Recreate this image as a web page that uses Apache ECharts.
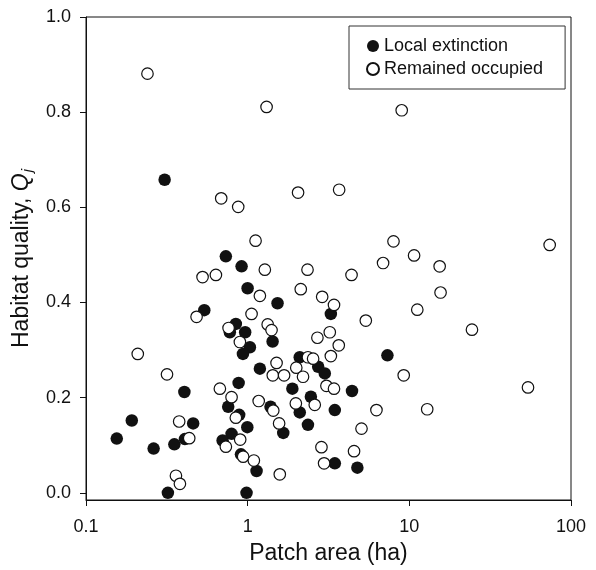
<!DOCTYPE html>
<html>
<head>
<meta charset="utf-8">
<script src="https://cdn.jsdelivr.net/npm/echarts@6/dist/echarts.min.js"></script>
<style>
html,body{margin:0;padding:0;background:#fff;}
#chart{width:596px;height:570px;}
</style>
</head>
<body>
<div id="chart"></div>
<script>
// Local extinction (filled)
const extinctionArea = [0.155,0.192,0.262,0.352,0.406,0.460,0.409,0.321,0.984,0.879,0.758,0.886,0.995,0.795,0.700,0.909,1.135,1.66,1.385,2.10,0.733,0.917,0.999,0.539,0.845,0.965,0.776,1.53,1.032,0.935,1.426,1.19,2.10,2.73,3.0,7.32,1.89,4.42,2.46,3.46,2.36,3.46,4.77,3.27,0.3065];
const extinctionQ    = [0.114,0.152,0.093,0.102,0.212,0.146,0.113,0.0,0.0,0.231,0.181,0.164,0.138,0.124,0.110,0.081,0.046,0.126,0.181,0.169,0.497,0.476,0.430,0.384,0.355,0.3375,0.3375,0.3985,0.306,0.292,0.318,0.261,0.285,0.265,0.251,0.289,0.219,0.214,0.202,0.174,0.143,0.062,0.053,0.376,0.658];
// Remained occupied (open)
const occupiedArea = [0.209,0.317,0.377,0.435,0.360,0.381,0.673,0.795,0.845,0.733,0.899,0.938,1.092,1.58,1.565,1.44,1.986,0.686,0.874,0.526,0.636,0.483,0.762,1.119,1.277,1.19,2.13,1.057,0.895,1.33,1.405,1.509,1.998,2.345,4.39,7.98,6.88,2.89,3.42,5.38,2.70,3.22,3.66,3.27,2.36,2.54,9.23,1.43,1.68,2.20,3.07,3.42,1.17,2.60,6.26,5.06,2.86,4.55,2.97,10.7,15.4,73.8,15.6,11.2,24.4,54.2,12.9,0.240,1.309,8.97,2.05,3.68];
const occupiedQ    = [0.292,0.249,0.150,0.115,0.036,0.019,0.219,0.201,0.158,0.097,0.112,0.076,0.068,0.039,0.146,0.173,0.188,0.619,0.601,0.4535,0.458,0.370,0.3465,0.530,0.469,0.414,0.428,0.376,0.317,0.354,0.342,0.273,0.263,0.469,0.458,0.5285,0.483,0.412,0.395,0.362,0.326,0.3375,0.310,0.2875,0.285,0.282,0.247,0.247,0.247,0.244,0.225,0.219,0.193,0.185,0.174,0.135,0.096,0.0875,0.062,0.499,0.476,0.521,0.421,0.385,0.343,0.2215,0.1757,0.881,0.811,0.804,0.631,0.637];
const xTickValues = [0.1, 1, 10, 100];
const yTickValues = [0, 0.2, 0.4, 0.6, 0.8, 1.0];
const seriesNames = ['Local extinction', 'Remained occupied'];

const FONT = '"Liberation Sans", Arial, Helvetica, sans-serif';
const INK = '#111';

function pairs(xs, ys) { return xs.map((x, i) => [x, ys[i]]); }

const chart = echarts.init(document.getElementById('chart'), null, {renderer: 'canvas'});
chart.setOption({
  backgroundColor: '#fff',
  animation: false,
  grid: {left: 86, right: 25, top: 17, bottom: 66, show: true, borderColor: INK, borderWidth: 1, backgroundColor: 'transparent'},
  legend: {
    left: 349, top: 26, orient: 'vertical',
    borderColor: '#333', borderWidth: 1, borderRadius: 0,
    padding: [11, 22, 11, 17], itemGap: 5,
    itemWidth: 12, itemHeight: 12,
    textStyle: {fontFamily: FONT, fontSize: 18, color: INK, lineHeight: 18},
    data: seriesNames
  },
  xAxis: {
    type: 'log', logBase: 10, min: 0.1, max: 100,
    name: 'Patch area (ha)', nameLocation: 'middle', nameGap: 42,
    nameTextStyle: {fontFamily: FONT, fontSize: 23, color: INK},
    axisLine: {onZero: false, lineStyle: {color: INK, width: 1}},
    axisTick: {show: true, inside: false, length: 6, lineStyle: {color: INK}, customValues: xTickValues},
    axisLabel: {fontFamily: FONT, fontSize: 18, color: INK, margin: 18, customValues: xTickValues,
      formatter: v => String(+(+v).toPrecision(3))},
    minorTick: {show: false}, splitLine: {show: false}
  },
  yAxis: {
    type: 'value', min: -0.015, max: 1.0,
    name: '{a|Habitat quality, }{q|Q}{j|j}', nameLocation: 'middle', nameGap: 44,
    nameTextStyle: {
      fontFamily: FONT, fontSize: 23, color: INK,
      rich: {
        a: {fontFamily: FONT, fontSize: 23, color: INK, lineHeight: 30},
        q: {fontFamily: FONT, fontSize: 23, color: INK, fontStyle: 'italic', lineHeight: 30},
        j: {fontFamily: FONT, fontSize: 15, color: INK, fontStyle: 'italic', lineHeight: 15, padding: [12, 0, 0, 1]}
      }
    },
    axisLine: {show: true, onZero: false, lineStyle: {color: INK, width: 1}},
    axisTick: {show: true, inside: false, length: 6, lineStyle: {color: INK}, customValues: yTickValues},
    axisLabel: {fontFamily: FONT, fontSize: 18, color: INK, margin: 15, customValues: yTickValues,
      formatter: v => (+v).toFixed(1)},
    splitLine: {show: false}
  },
  series: [
    {
      name: seriesNames[0], type: 'scatter', symbol: 'circle', symbolSize: 12.5,
      itemStyle: {color: '#111', borderColor: '#111', borderWidth: 0, opacity: 1},
      data: pairs(extinctionArea, extinctionQ), z: 2
    },
    {
      name: seriesNames[1], type: 'scatter', symbol: 'circle', symbolSize: 11.5,
      itemStyle: {color: '#fff', borderColor: '#111', borderWidth: 1.2, opacity: 1},
      data: pairs(occupiedArea, occupiedQ), z: 3
    }
  ]
});
</script>
</body>
</html>
